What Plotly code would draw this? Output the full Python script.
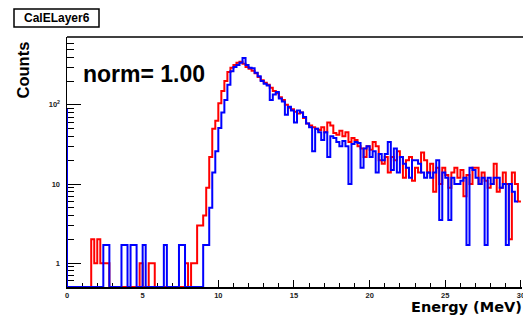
import numpy as np
import plotly.graph_objects as go

# ---------------- data ----------------
bin_width = 0.2
n_bins = 150
edges = [round(i * bin_width, 2) for i in range(n_bins + 1)]

red_counts = (
    [0] * 8 + [2, 1, 2, 1, 1, 1] + [0] * 10 + [1, 0, 0, 1, 1] + [0] * 10 +
    [1, 0, 1, 1, 3, 3, 4, 9, 22, 50, 63, 105, 150, 200, 260, 295, 320, 340,
     350, 330, 300, 285, 270, 250, 225, 205, 190, 180, 165, 150, 140, 125,
     115, 100, 92, 88, 82, 78, 80, 68, 58, 55, 52, 50, 48, 52, 45, 60, 55,
     44, 42, 47, 40, 45, 34, 38, 36, 30, 28, 22, 30, 27, 34, 30, 20, 18, 22,
     14, 22, 20, 26, 22, 12, 20, 22, 11, 16, 14, 25, 20, 14, 18, 8, 16, 10,
     16, 13, 9, 14, 16, 12, 15, 7, 13, 10, 16, 16, 10, 14, 11, 9, 10, 18, 8,
     9, 14, 10, 2, 14, 10, 6]
)

blue_counts = (
    [0] * 12 + [1.7, 1.7] + [0] * 4 + [1.7, 1.7, 0, 1.7, 1.7, 0, 0, 1.7] +
    [0] * 6 + [1.7] + [0] * 4 + [1.7, 1.7] + [0] * 6 +
    [1.7, 1.7, 5, 14, 26, 51, 80, 115, 180, 265, 300, 320, 340, 390, 320,
     295, 290, 255, 230, 200, 185, 175, 115, 135, 145, 120, 110, 75, 95, 85,
     60, 85, 80, 70, 58, 52, 26, 50, 45, 36, 45, 22, 40, 38, 34, 30, 35, 30,
     10, 32, 34, 33, 16, 28, 30, 22, 26, 14, 24, 20, 24, 34, 15, 28, 14, 22,
     18, 16, 12, 20, 20, 18, 14, 12, 14, 12, 14, 20, 3.5, 14, 12, 3.5, 12,
     10, 10, 11, 12, 1.7, 16, 15, 12, 10, 12, 1.7, 12, 10, 12, 12, 9, 10,
     1.7, 10, 8, 6]
)
blue_underflow = 89

x_tick_vals = [0, 5, 10, 15, 20, 25, 30]
x_tick_text = ["0", "5", "10", "15", "20", "25", "30"]
y_tick_vals = [1, 10, 100]
y_tick_text = ["1", "10", "10<sup>2</sup>"]
y_minor_vals = [0.6, 0.7, 0.8, 0.9, 2, 3, 4, 5, 6, 7, 8, 9,
                20, 30, 40, 50, 60, 70, 80, 90, 200, 300, 400, 500, 600, 700]

Y_MIN = 0.5
Y_MAX = 720

# ---------------- figure ----------------
W, H = 523, 318
# plot area in page pixels: x 67..522, y 37..287
ML, MT = 67, 37
MR = W - 522
MB = H - 287
PW, PH = W - ML - MR, H - MT - MB


def px(xpage):
    return (xpage - ML) / PW


def py(ypage):
    return (H - MB - ypage) / PH


def floor(vals):
    return [max(v, Y_MIN) for v in vals]


red_y = floor(red_counts) + [max(red_counts[-1], Y_MIN)]
blue_y = [blue_underflow] + floor(blue_counts) + [max(blue_counts[-1], Y_MIN)]

fig = go.Figure()
fig.add_trace(go.Scatter(
    x=edges, y=red_y, mode="lines", line=dict(color="#ff0000", width=2, shape="hv"),
    showlegend=False, hoverinfo="skip"))
fig.add_trace(go.Scatter(
    x=[edges[0]] + edges, y=blue_y, mode="lines",
    line=dict(color="#0000ff", width=2, shape="hv"),
    showlegend=False, hoverinfo="skip"))

FONT = "Liberation Sans, Arial, sans-serif"
WIDE = "DejaVu Sans, Verdana, sans-serif"
tick_font = dict(family=FONT, size=7.5, color="#222", weight="bold")

fig.update_layout(
    width=W, height=H,
    margin=dict(l=ML, r=MR, t=MT, b=MB, pad=0, autoexpand=False),
    paper_bgcolor="white", plot_bgcolor="white",
    showlegend=False,
    xaxis=dict(
        range=[0, 30.07], tickmode="array", tickvals=x_tick_vals, ticktext=x_tick_text,
        ticks="inside", ticklen=7.5, tickwidth=1, tickcolor="black",
        minor=dict(dtick=1, ticks="inside", ticklen=4, tickwidth=1, tickcolor="black"),
        showline=True, linecolor="black", linewidth=1.5, showgrid=False, zeroline=False,
        tickfont=tick_font, ticklabeloverflow="allow", layer="below traces",
        ticklabelstandoff=0, automargin=False,
    ),
    yaxis=dict(
        type="log", range=[np.log10(Y_MIN), np.log10(Y_MAX)],
        tickmode="array", tickvals=y_tick_vals, ticktext=y_tick_text,
        ticks="inside", ticklen=13.5, tickwidth=1, tickcolor="black",
        minor=dict(tickmode="array", tickvals=y_minor_vals, ticks="inside",
                   ticklen=7, tickwidth=1, tickcolor="black"),
        showline=True, linecolor="black", linewidth=1.5, showgrid=False, zeroline=False,
        tickfont=tick_font, layer="below traces", ticklabelstandoff=4, automargin=False,
    ),
)

# top frame line
fig.add_shape(type="line", xref="paper", yref="paper", x0=0, x1=1.01, y0=1, y1=1,
              line=dict(color="black", width=1.5))

# title box
fig.add_shape(type="rect", xref="paper", yref="paper",
              x0=px(14), x1=px(99), y0=py(27), y1=py(9),
              line=dict(color="black", width=1.5), fillcolor="white")
fig.add_annotation(x=px(56.5), y=py(18), xref="paper", yref="paper", text="<b>CalELayer6</b>",
                   showarrow=False, xanchor="center", yanchor="middle",
                   font=dict(family=FONT, size=12, color="black"))

# norm text
fig.add_annotation(x=px(81), y=py(74), xref="paper", yref="paper", text="<b>norm= 1.00</b>",
                   showarrow=False, xanchor="left", yanchor="middle",
                   font=dict(family=FONT, size=23, color="black"))

# axis titles
fig.add_annotation(x=px(22.5), y=py(70), xref="paper", yref="paper", text="<b>Counts</b>",
                   showarrow=False, textangle=-90, xanchor="center", yanchor="middle",
                   font=dict(family=FONT, size=16.5, color="black"))
fig.add_annotation(x=px(409), y=py(307), xref="paper", yref="paper", text="<b>Energy (MeV)</b>",
                   showarrow=False, xanchor="left", yanchor="middle",
                   font=dict(family=WIDE, size=14.5, color="black"))

fig.write_html(
    "out.html",
    config={"displayModeBar": False, "staticPlot": True},
    post_script="document.body.style.margin='0';"
                "document.body.style.overflow='hidden';"
                "document.documentElement.style.overflow='hidden';",
)
